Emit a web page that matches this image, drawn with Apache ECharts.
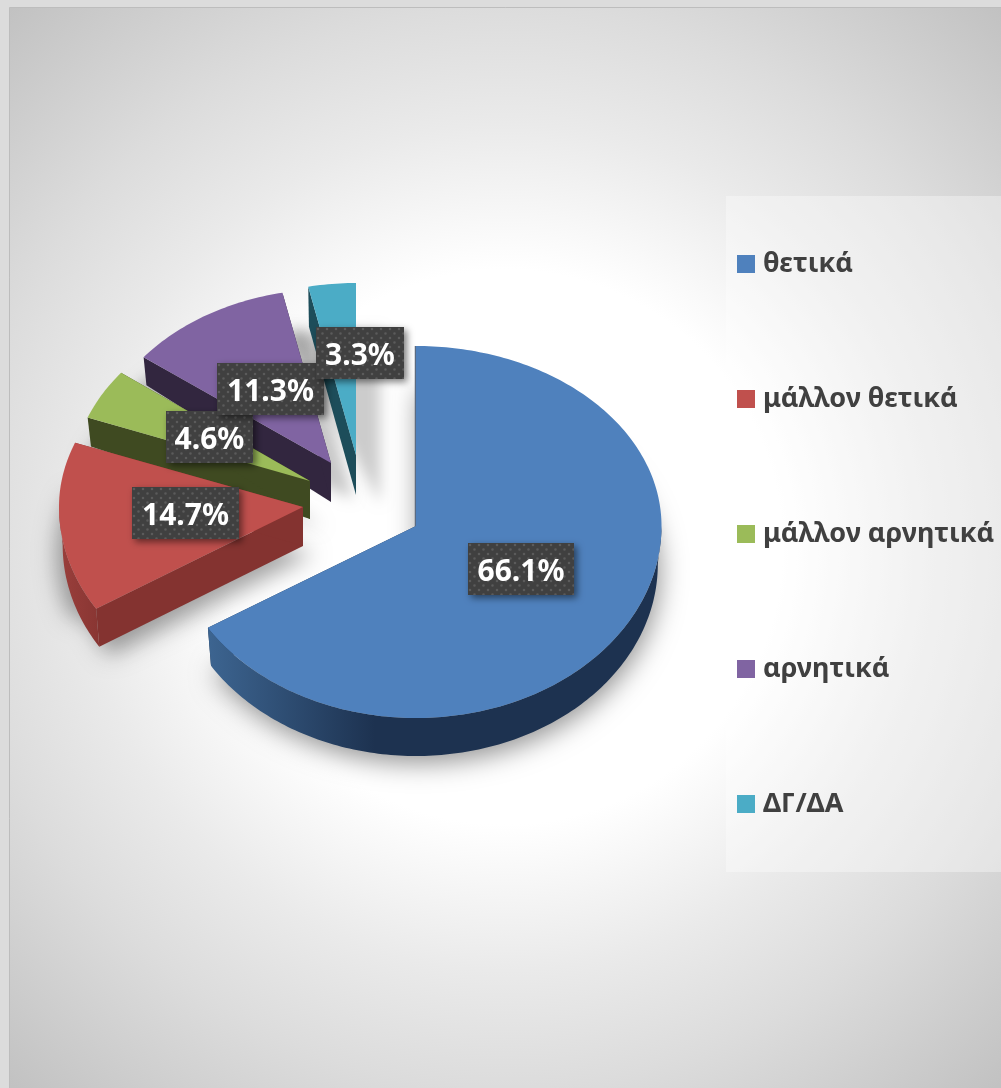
<!DOCTYPE html>
<html>
<head>
<meta charset="utf-8">
<title>Pie</title>
<style>
    html, body { margin: 0; padding: 0; background: #dcdcdc; }
    #chart { width: 1001px; height: 1088px; }
</style>
<script src="https://cdn.jsdelivr.net/npm/echarts@6/dist/echarts.min.js"></script>
</head>
<body>
<div id="chart"></div>
<script>
    // values
    const categories = ['θετικά', 'μάλλον θετικά', 'μάλλον αρνητικά', 'αρνητικά', 'ΔΓ/ΔΑ'];
    const shares = [66.1, 14.7, 4.6, 11.3, 3.3];

    // look of the slices
    const topColors = ['#4f81bd', '#c0504d', '#9bbb59', '#8064a2', '#4bacc6'];
    const wallColors = ['#1d3250', '#843330', '#3f4a21', '#32263f', '#1d4d5a'];
    const wallLeftColors = ['#3d6591', '#9a3f3c', '#3f4a21', '#32263f', '#1d4d5a'];
    const wallFadeFrom = [207, 59, 88, 144, 309];
    const wallFadeTo = [375, 110, 120, 180, 340];

    // exploded position and tilted radii per slice
    const apexX = [416, 303, 310, 331, 356];
    const apexY = [526, 507, 481, 463, 455];
    const radiusX = [245.5, 244, 238, 236, 232];
    const radiusUp = [180, 180, 178, 174, 172];
    const radiusDown = [192, 192, 190, 186, 184];
    const depthCentre = [39, 39, 38, 39, 40];
    const depthEdge = [38, 38, 29, 28, 40];

    // soft shadow under each slice
    const shadowSpread = [0, 8, 10, 20, 22];
    const shadowDrop = [39, 41, 40, 30, 42];
    const shadowAlpha = [0.42, 0.36, 0.3, 0.22, 0.2];
    const shadowBlur = [26, 22, 18, 14, 14];

    const labelLeft = [468, 132, 166, 217, 316];
    const labelTop = [543, 487, 411, 363, 327];
    const labelWidth = [106, 107, 87, 107, 88];
    const labelHeight = 52;

    const total = shares.reduce(function (a, b) { return a + b; }, 0);
    const startAngles = [];
    shares.reduce(function (sum, v, i) {
        startAngles[i] = sum / total * 360;
        return sum + v;
    }, 0);

    function rimPoint(i, deg, depth, shrink) {
        const a = deg * Math.PI / 180;
        const cos = Math.cos(a);
        const ry = cos > 0 ? radiusUp[i] : radiusDown[i];
        return [apexX[i] + radiusX[i] * shrink * Math.sin(a), apexY[i] - ry * cos + depth];
    }

    function rim(i, from, to, depth, shrink) {
        const pts = [];
        const steps = Math.max(2, Math.ceil(to - from));
        for (let s = 0; s <= steps; s++) {
            pts.push(rimPoint(i, from + (to - from) * s / steps, depth, shrink));
        }
        return pts;
    }

    function wallFill(i) {
        return new echarts.graphic.LinearGradient(wallFadeFrom[i], 0, wallFadeTo[i], 0, [
            {offset: 0, color: wallLeftColors[i]},
            {offset: 1, color: wallColors[i]}
        ], true);
    }

    function renderSlice(i) {
        const from = startAngles[i];
        const to = from + shares[i] / total * 360;
        const apex = [apexX[i], apexY[i]];
        const apexLow = [apexX[i], apexY[i] + depthCentre[i]];
        const children = [];
        // the two cut faces go first, the outer wall covers their ends
        [from, to].forEach(function (deg) {
            const outer = rimPoint(i, deg, 0, 1);
            const outerLow = rimPoint(i, deg, depthEdge[i], 0.985);
            children.push({
                type: 'polygon',
                shape: {points: [apex, outer, outerLow, apexLow]},
                style: {fill: wallColors[i]}
            });
        });
        // outer wall only shows on the front half
        const wallFrom = Math.max(from, 90);
        const wallTo = Math.min(to, 270);
        if (wallTo > wallFrom) {
            const upper = rim(i, wallFrom, wallTo, 0, 1);
            const lower = rim(i, wallFrom, wallTo, depthEdge[i], 0.985).reverse();
            children.push({
                type: 'polygon',
                shape: {points: upper.concat(lower)},
                style: {fill: wallFill(i)}
            });
        }
        // thin dark edge where the big slice starts
        if (from === 0) {
            const first = rimPoint(i, 0, 0, 1);
            children.push({
                type: 'line',
                shape: {x1: first[0] - 0.5, y1: first[1], x2: apex[0] - 0.5, y2: apex[1] + 2},
                style: {stroke: '#5b6b82', lineWidth: 1.5}
            });
        }
        children.push({
            type: 'polygon',
            shape: {points: [apex].concat(rim(i, from, to, 0, 1))},
            style: {fill: topColors[i]}
        });
        return {type: 'group', children: children};
    }

    // the polygon sits off the canvas, only its blurred shadow lands on the chart
    const SHADOW_SHIFT = 3000;

    function renderShadow(params) {
        const i = params.dataIndex;
        const from = startAngles[i];
        const to = from + shares[i] / total * 360;
        const drop = shadowDrop[i];
        const pts = [[apexX[i], apexY[i] + drop]].concat(rim(i, from, to, drop, 0.985));
        // grow the outline sideways around its middle
        const cx = pts.reduce(function (s, p) { return s + p[0]; }, 0) / pts.length;
        const grown = pts.map(function (p) {
            const side = p[0] >= cx ? 1 : -1;
            return [p[0] + side * shadowSpread[i], p[1]];
        });
        return {
            type: 'polygon',
            x: -SHADOW_SHIFT,
            shape: {points: grown},
            style: {
                fill: '#000000',
                shadowBlur: shadowBlur[i],
                shadowOffsetX: SHADOW_SHIFT + 2,
                shadowOffsetY: 6,
                shadowColor: 'rgba(0,0,0,' + shadowAlpha[i] + ')'
            }
        };
    }

    // dotted texture of the label boxes
    function labelPattern() {
        const c = document.createElement('canvas');
        c.width = 9;
        c.height = 9;
        const ctx = c.getContext('2d');
        ctx.fillStyle = '#404040';
        ctx.fillRect(0, 0, 9, 9);
        ctx.fillStyle = 'rgba(255,255,255,0.14)';
        ctx.beginPath();
        ctx.arc(2, 2, 1.3, 0, Math.PI * 2);
        ctx.arc(6.5, 6.5, 1.3, 0, Math.PI * 2);
        ctx.fill();
        return {image: c, repeat: 'repeat'};
    }
    const boxFill = labelPattern();

    function renderLabel(params, api) {
        const i = params.dataIndex;
        return {
            type: 'group',
            x: labelLeft[i],
            y: labelTop[i],
            children: [{
                type: 'rect',
                shape: {x: 0, y: 0, width: labelWidth[i], height: labelHeight},
                style: {
                    fill: boxFill,
                    shadowBlur: 7,
                    shadowOffsetX: 3,
                    shadowOffsetY: 3,
                    shadowColor: 'rgba(0,0,0,0.5)'
                }
            }, {
                type: 'text',
                z2: 5,
                style: {
                    x: labelWidth[i] / 2,
                    y: labelHeight / 2 + 3,
                    text: api.value(0).toFixed(1) + '%',
                    fill: '#ffffff',
                    font: 'bold 30px "Noto Sans"',
                    align: 'center',
                    verticalAlign: 'middle'
                }
            }]
        };
    }

    const sliceSeries = categories.map(function (name, i) {
        return {
            name: name,
            type: 'custom',
            coordinateSystem: 'none',
            z: 10 - i,
            itemStyle: {color: topColors[i]},
            silent: true,
            data: [shares[i]],
            renderItem: function () { return renderSlice(i); }
        };
    });

    const myChart = echarts.init(document.getElementById('chart'));
    myChart.setOption({
        animation: false,
        graphic: [{
            type: 'rect',
            z: -10,
            shape: {x: 9.5, y: 7.5, width: 1000, height: 1090},
            style: {
                fill: new echarts.graphic.RadialGradient(505, 547, 730, [
                    {offset: 0, color: '#ffffff'},
                    {offset: 0.38, color: '#ffffff'},
                    {offset: 0.58, color: '#eaeaea'},
                    {offset: 0.74, color: '#dcdcdc'},
                    {offset: 1, color: '#c2c2c2'}
                ], true),
                stroke: '#bdbdbd',
                lineWidth: 1
            }
        }, {
            type: 'rect',
            z: -9,
            shape: {x: 726, y: 196, width: 275, height: 676},
            style: {fill: 'rgba(255,255,255,0.35)'}
        }],
        legend: {
            orient: 'vertical',
            left: 737,
            top: 247.5,
            data: categories,
            icon: 'rect',
            itemWidth: 18,
            itemHeight: 18,
            itemGap: 102,
            padding: 0,
            selectedMode: false,
            textStyle: {
                color: '#404040',
                fontFamily: '"Noto Sans"',
                fontWeight: 'bold',
                fontSize: 27,
                lineHeight: 30,
                padding: [3, 0, 0, 3]
            }
        },
        series: [{
            name: 'shadow',
            type: 'custom',
            coordinateSystem: 'none',
            z: 1,
            silent: true,
            data: shares,
            renderItem: renderShadow
        }].concat(sliceSeries, [{
            name: 'labels',
            type: 'custom',
            coordinateSystem: 'none',
            z: 20,
            silent: true,
            data: shares,
            renderItem: renderLabel
        }])
    });
</script>
</body>
</html>
